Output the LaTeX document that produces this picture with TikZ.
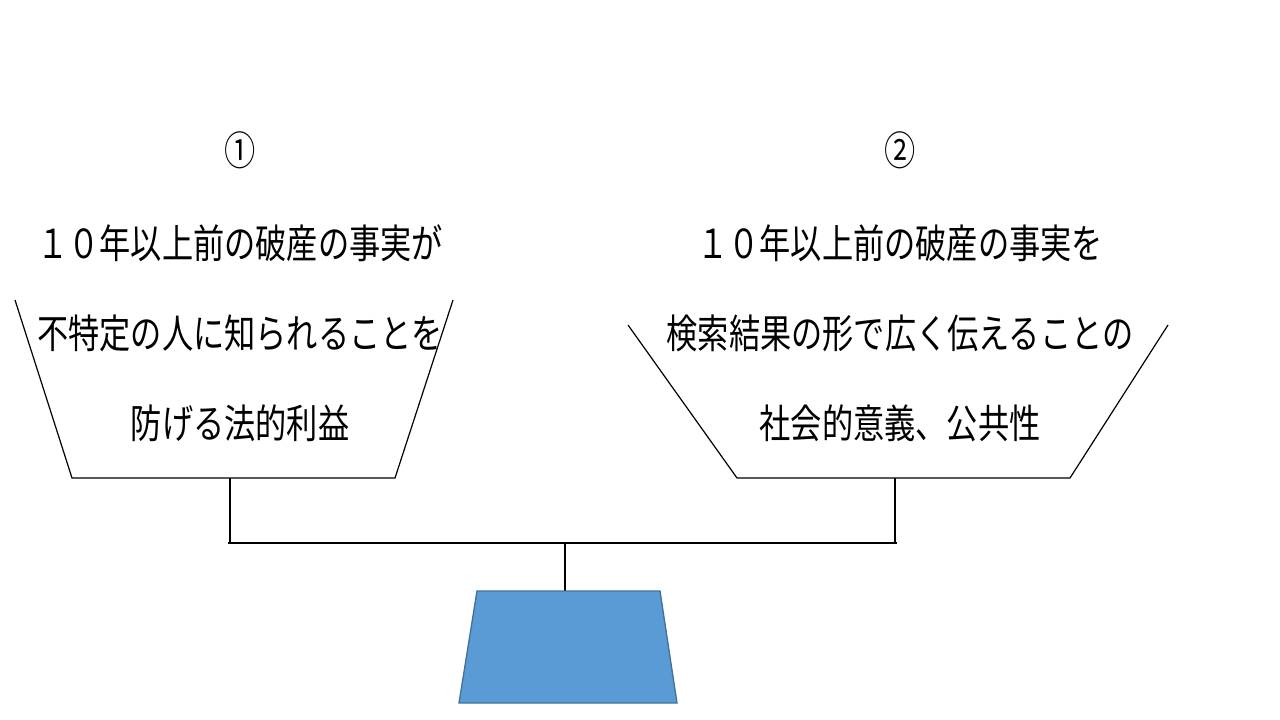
\documentclass[tikz,border=0pt]{standalone}
\usepackage{fontspec}
\newfontfamily\cjk{Noto Sans CJK JP}[Scale=1]
\begin{document}
\begin{tikzpicture}[x=0.75pt,y=-0.75pt,
  lbl/.style={font=\cjk\fontsize{30}{30}\selectfont, xscale=0.78, inner sep=0pt, anchor=center},
  ln/.style={line width=0.9pt}]
\useasboundingbox (0,0) rectangle (1280,720);
% left text
\node[lbl] (l0) at (240,150) {①};
\node[lbl] (l1) at (240,243) {１０年以上前の破産の事実が};
\node[lbl] (l2) at (240,333) {不特定の人に知られることを};
\node[lbl] (l3) at (240,423) {防げる法的利益};
% right text
\node[lbl] (r0) at (900,150) {②};
\node[lbl] (r1) at (900,243) {１０年以上前の破産の事実を};
\node[lbl] (r2) at (900,333) {検索結果の形で広く伝えることの};
\node[lbl] (r3) at (900,423) {社会的意義、公共性};
% pans
\draw[ln] (15,300) -- (72,478) -- (395,478) -- (453,300);
\draw[ln] (628,325) -- (737,478) -- (1070,478) -- (1168,325);
% hangers and beam
\coordinate (lp) at (230,478); \coordinate (lb) at (230,543);
\coordinate (rp) at (895,478); \coordinate (rb) at (895,543);
\coordinate (cb) at (565,543); \coordinate (ct) at (565,591);
\draw[ln] (lp) -- (lb);
\draw[ln] (rp) -- (rb);
\draw[line width=1.4pt] (228,543) -- (897,543);
\draw[ln] (cb) -- (ct);
% base
\draw[fill={rgb,255:red,91;green,155;blue,213}, draw={rgb,255:red,65;green,113;blue,156}, line width=1pt]
  (477,591) -- (660,591) -- (677,703) -- (459,703) -- cycle;
\end{tikzpicture}
\end{document}
